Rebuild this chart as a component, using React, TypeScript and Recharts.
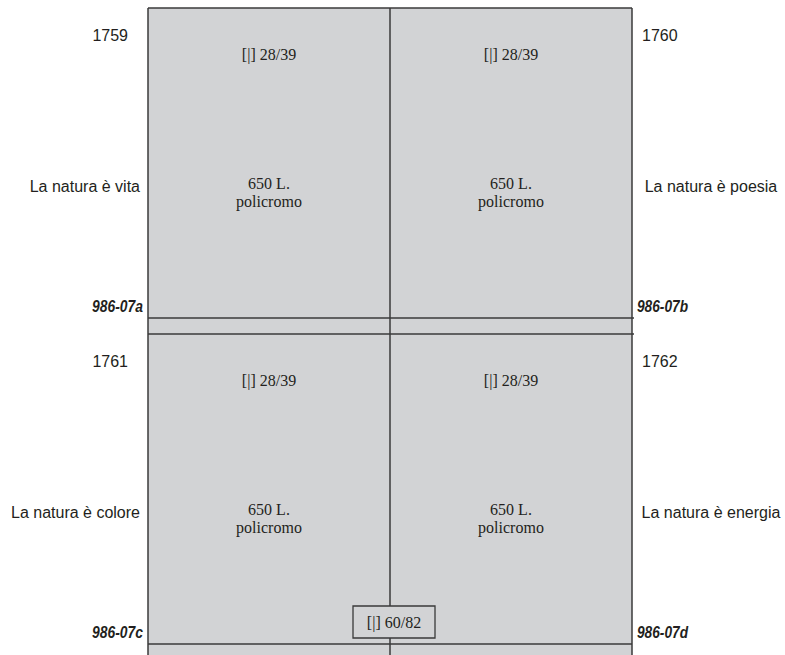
import React from "react";
import {
  ComposedChart,
  XAxis,
  YAxis,
  Scatter,
  ReferenceArea,
  ReferenceLine,
} from "recharts";

// ---- data ----
const stampYears = ["1759", "1760", "1761", "1762"];
const stampTitles = [
  "La natura è vita",
  "La natura è poesia",
  "La natura è colore",
  "La natura è energia",
];
const stampCodes = ["986-07a", "986-07b", "986-07c", "986-07d"];
const stampPlates = ["[|] 28/39", "[|] 28/39", "[|] 28/39", "[|] 28/39"];
const stampValues = ["650 L.", "650 L.", "650 L.", "650 L."];
const stampPrints = ["policromo", "policromo", "policromo", "policromo"];
const sheetNumber = "[|] 60/82";

// ---- layout (sheet geometry in chart units) ----
const W = 785;
const H = 655;
const SHEET_LEFT = 148;
const SHEET_TOP = 8;
const COL_W = 242;
const ROW_H = 310;
const GUTTER = 16;
const ROW_STEP = ROW_H + GUTTER;
const SHEET_RIGHT = SHEET_LEFT + 2 * COL_W;
const MID_X = SHEET_LEFT + COL_W;

const GRAY = "#d2d3d5";
const LINE = "#3a3a3a";
const INK = "#231f20";
const SANS = "'Liberation Sans', Arial, sans-serif";
const NARROW = "'Liberation Sans Narrow', 'Liberation Sans', Arial, sans-serif";
const SERIF = "'Liberation Serif', 'Times New Roman', serif";

type TextPt = {
  x: number;
  y: number;
  text: string;
  anchor: "start" | "middle" | "end";
  font: string;
  size: number;
  weight?: string;
  italic?: boolean;
  fit?: number;
};

const textPoints: TextPt[] = [];
stampYears.forEach((_, i) => {
  const col = i % 2;
  const row = Math.floor(i / 2);
  const x0 = SHEET_LEFT + col * COL_W;
  const y0 = SHEET_TOP + row * ROW_STEP;
  const cx = x0 + COL_W / 2;
  const left = col === 0;
  textPoints.push(
    { x: cx, y: y0 + 46, text: stampPlates[i], anchor: "middle", font: SERIF, size: 16 },
    { x: cx, y: y0 + 175, text: stampValues[i], anchor: "middle", font: SERIF, size: 16 },
    { x: cx, y: y0 + 193, text: stampPrints[i], anchor: "middle", font: SERIF, size: 16 },
    {
      x: left ? SHEET_LEFT - 20 : SHEET_RIGHT + 10,
      y: y0 + 27,
      text: stampYears[i],
      anchor: left ? "end" : "start",
      font: SANS,
      size: 16,
    },
    {
      x: left ? SHEET_LEFT - 8 : SHEET_RIGHT + 79,
      y: y0 + 178,
      text: stampTitles[i],
      anchor: left ? "end" : "middle",
      font: SANS,
      size: 16,
    },
    {
      x: left ? SHEET_LEFT - 5 : SHEET_RIGHT + 5,
      y: y0 + 298,
      text: stampCodes[i],
      anchor: left ? "end" : "start",
      font: NARROW,
      size: 16.5,
      weight: "bold",
      italic: true,
      fit: 51,
    }
  );
});

const BOX = { x1: 353, x2: 435, y1: 606, y2: 638 };
textPoints.push({
  x: (BOX.x1 + BOX.x2) / 2,
  y: (BOX.y1 + BOX.y2) / 2,
  text: sheetNumber,
  anchor: "middle",
  font: SERIF,
  size: 16,
});

const gutterTop = SHEET_TOP + ROW_H;
const gutterBottom = SHEET_TOP + ROW_STEP;
const sheetBottomLine = SHEET_TOP + ROW_STEP + ROW_H;

const segments: { x1: number; y1: number; x2: number; y2: number }[] = [
  { x1: SHEET_LEFT, y1: SHEET_TOP, x2: SHEET_RIGHT, y2: SHEET_TOP },
  { x1: SHEET_LEFT, y1: SHEET_TOP, x2: SHEET_LEFT, y2: H },
  { x1: SHEET_RIGHT, y1: SHEET_TOP, x2: SHEET_RIGHT, y2: H },
  { x1: MID_X, y1: SHEET_TOP, x2: MID_X, y2: BOX.y1 },
  { x1: MID_X, y1: BOX.y2, x2: MID_X, y2: H },
  { x1: SHEET_LEFT, y1: gutterTop, x2: SHEET_RIGHT + 2, y2: gutterTop },
  { x1: SHEET_LEFT, y1: gutterBottom, x2: SHEET_RIGHT + 2, y2: gutterBottom },
  { x1: SHEET_LEFT, y1: sheetBottomLine, x2: SHEET_RIGHT, y2: sheetBottomLine },
];

const TextShape = (props: any) => {
  const { cx, cy, payload } = props;
  const p = payload as TextPt;
  const fitProps = p.fit ? { textLength: p.fit, lengthAdjust: "spacingAndGlyphs" } : {};
  return (
    <text
      x={cx}
      y={cy}
      textAnchor={p.anchor}
      dominantBaseline="central"
      fontFamily={p.font}
      fontSize={p.size}
      fontWeight={p.weight || "normal"}
      fontStyle={p.italic ? "italic" : "normal"}
      fill={INK}
      {...fitProps}
    >
      {p.text}
    </text>
  );
};

export default function App() {
  return (
    <div style={{ position: "absolute", left: 0, top: 0, width: W, height: H, background: "#fff" }}>
      <ComposedChart width={W} height={H} margin={{ top: 0, right: 0, bottom: 0, left: 0 }}>
        <XAxis type="number" dataKey="x" domain={[0, W]} hide allowDataOverflow />
        <YAxis type="number" dataKey="y" domain={[0, H]} reversed hide allowDataOverflow />
        <ReferenceArea
          x1={SHEET_LEFT}
          x2={SHEET_RIGHT}
          y1={SHEET_TOP}
          y2={H}
          fill={GRAY}
          fillOpacity={1}
          stroke="none"
          ifOverflow="extendDomain"
        />
        {segments.map((s, i) => (
          <ReferenceLine
            key={i}
            segment={[
              { x: s.x1, y: s.y1 },
              { x: s.x2, y: s.y2 },
            ]}
            stroke={LINE}
            strokeWidth={1.5}
            ifOverflow="extendDomain"
          />
        ))}
        <ReferenceArea
          x1={BOX.x1}
          x2={BOX.x2}
          y1={BOX.y1}
          y2={BOX.y2}
          fill={GRAY}
          fillOpacity={1}
          stroke={LINE}
          strokeWidth={1.3}
          ifOverflow="extendDomain"
        />
        <Scatter data={textPoints} shape={TextShape} isAnimationActive={false} />
      </ComposedChart>
    </div>
  );
}
